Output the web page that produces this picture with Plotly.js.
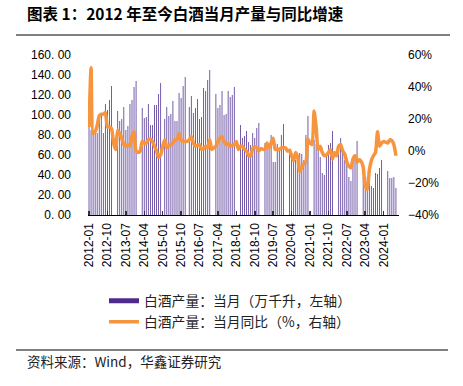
<!DOCTYPE html>
<html><head><meta charset="utf-8">
<script src="https://cdn.plot.ly/plotly-3.0.1.min.js"></script>
<style>html,body{margin:0;padding:0;background:#fff;}#c{width:463px;height:386px;}</style>
</head><body><div id="c"></div>
<script>
// Monthly production (万千升), 2012-01 .. 2024-07; null = not published
const production = [
  92, 85, 82, 82, 82, 101, 100, 82, 111, 105, 115, 129,          // 2012
  null, null, 104, 94, 96, 108, 85, 89, 111, 115, 128, 134,      // 2013
  null, null, 107, 97, 98, 111, 90, 90, 110, 110, 121, 132,      // 2014
  null, 96, 108, 99, 101, 114, 94, 94, 122, 117, 129, 138,       // 2015
  null, 108, 119, 102, 107, 116, 96, 98, 127, 124, 135, 145,     // 2016
  null, null, 121, 107, 110, 124, 100, 101, 124, 118, 120, 128,  // 2017
  null, null, 90, 77, 79, 84, 73, 70, 82, 77, 87, 92,            // 2018
  null, null, 72, 68, 70, 80, 53, 53, 71, 67, 80, 91,            // 2019
  null, null, 66, 62, 60, 55, 50, 62, 61, 55, 80, 99,            // 2020
  null, null, 75, 71, 68, 58, 42, 40, 58, 70, 72, 84,            // 2021
  null, null, 65, 77, 62, 55, 54, 38, 34, 58, 60, 74,            // 2022
  null, null, 38, 37, 38, 37, 29, 27, 42, 41, 47, 55,            // 2023
  null, null, 44, 37, 37, 38, 27                                 // 2024
];
// Monthly YoY (%)
const yoy = [
  15, 52, 11, 12, 16, 22, 23, 23, 24, 15, 15, 14,
  5, 1, 13, 11, 8, 4, 3, 4, 3, 9, 12, 0,
  -1, 0, 6, 5, 5, 7, 7.6, 6, 3, 0, -4, -2.5,
  3, 7, 2, 3, 4, 5, 7, 7, 11, 7, 6, 6,
  6, 7, 9, 5, 3, 3.5, 4, 1, 1.5, 3, 2, 7,
  1, 2, 3, 6, 8, 9, 6, 4, 4.7, 3, 3.5, 4,
  6, 1, 3, 3, 1, 0, -3, -3, 1.5, 2.5, 2, 0,
  1.5, 1, 1, 5, 2, 5, 8, 1, 1, 1, 2, 2,
  2, 0, 0.5, -3, -6, -1, -4, -13, -10, -8, -7, 7.5,
  5, 4, 25, 15, 1, 3, -1, -3, -2.5, -1, 1, -5,
  -1, -3, 3, 4, 0, -2, -7, -9.5, -10.5, -5, -3, -7,
  -5.5, -6.5, -10, -22, -24, -12, -6, -3, -1, 12, 3, 5,
  6, 5.5, 5, 7, 6.5, 4, -3
];
const tickLabels = ['2012-01','2012-10','2013-07','2014-04','2015-01','2015-10','2016-07','2017-04',
  '2018-01','2018-10','2019-07','2020-04','2021-01','2021-10','2022-07','2023-04','2024-01'];
const leftTicks = [0, 20, 40, 60, 80, 100, 120, 140, 160];
const rightTicks = [-40, -20, 0, 20, 40, 60];
const names = ['白酒产量：当月（万千升，左轴）', '白酒产量：当月同比（%，右轴）'];

const months = [];
for (let y = 2012; y <= 2024; y++) {
  for (let m = 1; m <= 12; m++) {
    if (months.length < production.length) months.push(y + '-' + String(m).padStart(2, '0'));
  }
}

const CJK = '"Noto Sans CJK SC", "Liberation Sans", sans-serif';
const LAT = '"Liberation Sans", Arial, sans-serif';
const purple = '#4E2C8C';
const barPurple = '#5E429C';
const orange = '#F7953F';

const traces = [
  {type: 'bar', x: months, y: production, marker: {color: barPurple, line: {width: 0}},
   showlegend: false, hoverinfo: 'x+y'},
  {type: 'scatter', mode: 'lines', x: [null], y: [null], name: names[0],
   line: {color: purple, width: 5}, legendgroup: 'a', showlegend: true},
  {type: 'scatter', mode: 'lines', x: months, y: yoy, yaxis: 'y2', name: names[1],
   line: {color: orange, width: 3.5, shape: 'spline', smoothing: 0.6}, connectgaps: true,
   legendgroup: 'b'}
];

const layout = {
  width: 463, height: 386,
  margin: {l: 88, r: 64, t: 55, b: 171, pad: 0},
  paper_bgcolor: '#fff', plot_bgcolor: '#fff',
  bargap: 0.58,
  showlegend: true,
  title: {text: '图表 1：2012 年至今白酒当月产量与同比增速', xref: 'container', yref: 'container',
    x: 27 / 463, xanchor: 'left', y: 1 - 15 / 386, yanchor: 'middle',
    font: {family: CJK, size: 15.5, color: '#000', weight: 'bold'}},
  xaxis: {type: 'category', range: [-0.5, 151.5], tickmode: 'array', tickvals: tickLabels, ticktext: tickLabels,
    tickangle: -90, ticks: 'inside', ticklen: 4, tickwidth: 1.5, tickcolor: '#333',
    showline: true, linecolor: '#000', linewidth: 1.3, showgrid: false, zeroline: false,
    tickfont: {family: LAT, size: 12, color: '#000'}, ticklabelstandoff: 2, fixedrange: true},
  yaxis: {range: [0, 160], tickmode: 'array', tickvals: leftTicks,
    ticktext: leftTicks.map(v => v.toFixed(2).replace('.', '. ')),
    showgrid: false, zeroline: false, showline: false, ticks: '',
    tickfont: {family: LAT, size: 12, color: '#000'}, ticklabelstandoff: 16},
  yaxis2: {range: [-40, 60], overlaying: 'y', side: 'right', tickmode: 'array', tickvals: rightTicks,
    ticktext: rightTicks.map(v => (v < 0 ? '\u2212' + Math.abs(v) : v) + '%'),
    showgrid: false, zeroline: false, showline: false, ticks: '',
    tickfont: {family: LAT, size: 12, color: '#000'}, ticklabelstandoff: 8},
  legend: {orientation: 'v', x: 16 / 311, xanchor: 'left', y: -0.44, yanchor: 'top',
    traceorder: 'grouped', tracegroupgap: 0, bgcolor: 'rgba(0,0,0,0)',
    font: {family: CJK, size: 13.8, color: '#222'}},
  shapes: [
    {type: 'line', xref: 'paper', yref: 'paper', x0: (16 - 88) / 311, x1: (450 - 88) / 311,
     y0: (215 - 35) / 160, y1: (215 - 35) / 160, line: {color: '#000', width: 1.2}},
    {type: 'line', xref: 'paper', yref: 'paper', x0: (16 - 88) / 311, x1: (448 - 88) / 311,
     y0: (215 - 350) / 160, y1: (215 - 350) / 160, line: {color: '#000', width: 1.2}}
  ],
  annotations: [
    {text: '资料来源：Wind，华鑫证券研究', xref: 'paper', yref: 'paper', x: (25 - 88) / 311, xanchor: 'left',
     y: (215 - 361) / 160, yanchor: 'middle', showarrow: false,
     font: {family: CJK, size: 13.5, color: '#222'}}
  ]
};

Plotly.newPlot('c', traces, layout, {staticPlot: true, displayModeBar: false});
</script>
</body></html>
